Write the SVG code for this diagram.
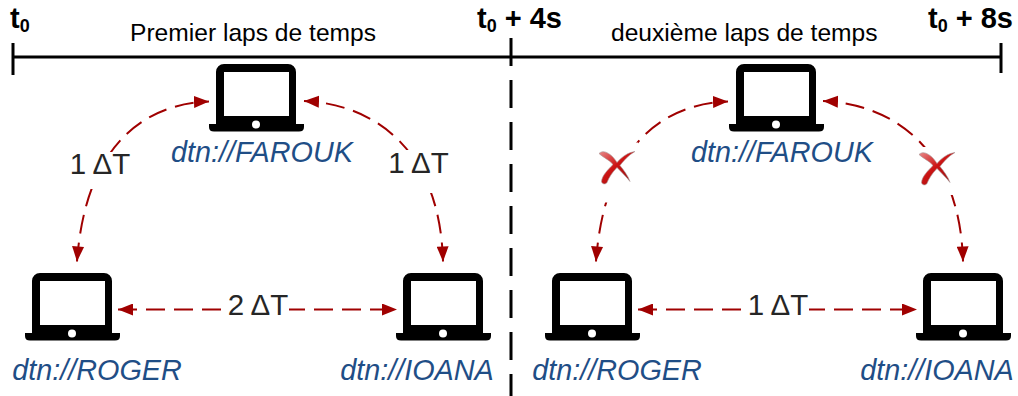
<svg xmlns="http://www.w3.org/2000/svg" width="1018" height="396" viewBox="0 0 1018 396">
<style>
.tl{stroke:#000;stroke-width:3;fill:none}
.c{stroke:#a00000;stroke-width:2;fill:none;stroke-dasharray:19 9;marker-start:url(#as);marker-end:url(#ae)}
.h{font:bold 29px "Liberation Sans",sans-serif;fill:#000}
.s{font:bold 18px "Liberation Sans",sans-serif;fill:#000}
.p{font:24.600px "Liberation Sans",sans-serif;fill:#000}
.d{font:29.500px "Liberation Sans",sans-serif;fill:#262626;text-anchor:middle}
.n{font:italic 28.800px "Liberation Sans",sans-serif;fill:#1f4e86;text-anchor:middle}
</style>
<defs>
<marker id="ae" markerUnits="userSpaceOnUse" markerWidth="16" markerHeight="13" refX="15" refY="6" orient="auto"><path d="M0 0L15 6L0 12Z" fill="#a00000"/></marker>
<marker id="as" markerUnits="userSpaceOnUse" markerWidth="16" markerHeight="13" refX="0" refY="6" orient="auto"><path d="M15 0L0 6L15 12Z" fill="#a00000"/></marker>
<linearGradient id="xg" x1="0" y1="0" x2="1" y2="1"><stop offset="0" stop-color="#e88a8a"/><stop offset=".45" stop-color="#cc1414"/><stop offset="1" stop-color="#8a1010"/></linearGradient>
<g id="laptop">
<path fill-rule="evenodd" fill="#000" d="M-32 0H32A8 8 0 0 1 40 8V60H48V63Q48 67.500 43 67.500H-42Q-47 67.500 -47 63V60H-40V8A8 8 0 0 1 -32 0ZM-32 8V52H33V8Z"/>
<circle cx="0" cy="60.500" r="4" fill="#fff"/>
</g>
<path id="cross" fill="url(#xg)" stroke="#a89a9a" stroke-width=".6" d="M-18 -14C-15 -17 -11 -16 -7 -13C-4 -11 -2 -8 0 -5C5 -11 11 -15 18 -16C11 -12 6 -6 3 -2C7 3 11 8 13 14C9 9 4 4 0 0C-5 5 -8 10 -10 15C-11 17 -15 17 -15.500 14C-15 8 -9 2 -4 -3C-8 -8 -14 -10 -18 -14Z"/>
</defs>
<g id="timeline">
<path class="tl" d="M13 57H1001M13 43V75M511 38V66M1001 43V73"/>
<path d="M511 80V396" stroke="#000" stroke-width="3" fill="none" stroke-dasharray="28 14"/>
</g>
<g id="connectors">
<path class="c" d="M77 261.500C85 150 140 104 209 101.500"/>
<path class="c" d="M443 261.500C440 150 375 104 304 101"/>
<path class="c" d="M118 309.500H397"/>
<path class="c" d="M596 261.500C604 150 659 104 728 101.500"/>
<path class="c" d="M963 261.500C960 150 894 104 823 101"/>
<path class="c" d="M638 309.500H917"/>
</g>
<rect x="223" y="295" width="66" height="30" fill="#fff"/>
<rect x="743" y="295" width="66" height="30" fill="#fff"/>
<rect x="66" y="152" width="66" height="37" fill="#fff"/>
<rect x="386" y="150" width="66" height="43" fill="#fff"/>
<rect x="592" y="142.500" width="46" height="60" fill="#fff"/>
<rect x="915" y="147" width="48" height="48" fill="#fff"/>
<g id="node-farouk-1"><use href="#laptop" x="256" y="64"/><text class="n" x="262" y="162">dtn://FAROUK</text></g>
<g id="node-roger-1"><use href="#laptop" x="72" y="273"/><text class="n" x="97" y="380">dtn://ROGER</text></g>
<g id="node-ioana-1"><use href="#laptop" x="443" y="273"/><text class="n" x="417" y="380">dtn://IOANA</text></g>
<g id="node-farouk-2"><use href="#laptop" x="776" y="64"/><text class="n" x="782" y="162">dtn://FAROUK</text></g>
<g id="node-roger-2"><use href="#laptop" x="592" y="273"/><text class="n" x="617" y="380">dtn://ROGER</text></g>
<g id="node-ioana-2"><use href="#laptop" x="963" y="273"/><text class="n" x="937" y="380">dtn://IOANA</text></g>
<use href="#cross" x="617" y="167.500"/>
<use href="#cross" x="937" y="168.500"/>
<g id="labels">
<text class="h" x="10" y="28">t<tspan class="s" dy="4">0</tspan></text>
<text class="h" x="477" y="28">t<tspan class="s" dy="4">0</tspan><tspan dy="-4"> + 4s</tspan></text>
<text class="h" x="928" y="28">t<tspan class="s" dy="4">0</tspan><tspan dy="-4"> + 8s</tspan></text>
<text class="p" x="130" y="41">Premier laps de temps</text>
<text class="p" x="611" y="41">deuxième laps de temps</text>
<text class="d" x="100" y="174">1 ΔT</text>
<text class="d" x="418.500" y="173">1 ΔT</text>
<text class="d" x="258" y="315">2 ΔT</text>
<text class="d" x="778" y="315">1 ΔT</text>
</g>
</svg>
